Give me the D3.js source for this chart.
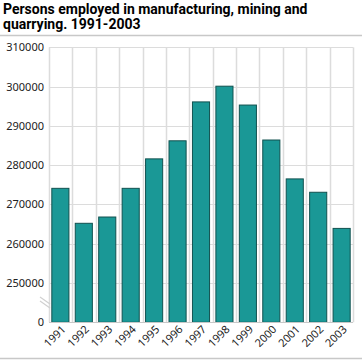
<!DOCTYPE html>
<html><head><meta charset="utf-8">
<script src="https://cdn.jsdelivr.net/npm/d3@7"></script>
<style>body{margin:0;background:#fff}svg{display:block}</style>
</head><body>
<script>
const years = ["1991","1992","1993","1994","1995","1996","1997","1998","1999","2000","2001","2002","2003"];
const employed = [274100,265200,266800,274100,281600,286200,296100,300100,295300,286400,276500,273100,263900];
const yTicks = [250000,260000,270000,280000,290000,300000,310000];
const yBase = 240000; // position shown as "0" (broken axis)
const title = ["Persons employed in manufacturing, mining and","quarrying. 1991-2003"];

const W=363,H=360;
const m={l:49,r:10,t:47.3,b:38};
const svg=d3.select("body").append("svg").attr("width",W).attr("height",H);
const ff="'Noto Sans', 'Open Sans', sans-serif";

svg.selectAll("text.title").data(title).enter().append("text")
 .attr("x",3).attr("y",(d,i)=>13.5+i*15.5).attr("font-family","Roboto, 'Noto Sans', sans-serif").attr("font-weight","bold")
 .attr("font-size",14).attr("fill","#000").text(d=>d);
svg.append("line").attr("x1",0).attr("x2",362).attr("y1",35.5).attr("y2",35.5).attr("stroke","#c8c8c8").attr("stroke-width",1.5);
svg.append("line").attr("x1",0).attr("x2",362).attr("y1",358.5).attr("y2",358.5).attr("stroke","#c8c8c8").attr("stroke-width",1.5);

const x=d3.scaleBand().domain(years).range([m.l,353]).paddingInner(0.27).paddingOuter(0.12);
const y=d3.scaleLinear().domain([yBase,310000]).range([322.3,47.3]);
const g=svg.append("g");
const cw=(353-m.l)/years.length;
// horizontal grid
g.selectAll("line.hg").data(yTicks).enter().append("line")
 .attr("x1",m.l).attr("x2",353).attr("y1",d=>Math.round(y(d))+0.5).attr("y2",d=>Math.round(y(d))+0.5)
 .attr("stroke","#dcdcdc").attr("stroke-width",1);
// vertical grid at category boundaries
g.selectAll("line.vg").data(years).enter().append("line")
 .attr("x1",(d,i)=>Math.round(m.l+cw*(i+1))+0.5)
 .attr("x2",(d,i)=>Math.round(m.l+cw*(i+1))+0.5)
 .attr("y1",47.3).attr("y2",322.3).attr("stroke","#dcdcdc").attr("stroke-width",1.5);
g.append("line").attr("x1",m.l+0.5).attr("x2",m.l+0.5).attr("y1",47.3).attr("y2",322.3).attr("stroke","#dcdcdc").attr("stroke-width",1.5);

// bars
g.selectAll("rect.bar").data(employed).enter().append("rect")
 .attr("x",(d,i)=>x(years[i])).attr("width",x.bandwidth())
 .attr("y",d=>y(d)).attr("height",d=>y(yBase)-y(d))
 .attr("fill","#1a9896").attr("stroke","#11514f").attr("stroke-width",1);

// baseline
g.append("line").attr("x1",m.l).attr("x2",353).attr("y1",322.5).attr("y2",322.5).attr("stroke","#c8c8c8").attr("stroke-width",1);

// break marks
[0,4].forEach(o=>{
 g.append("line").attr("x1",40).attr("y1",297+o).attr("x2",50).attr("y2",304+o).attr("stroke","#d0d0d0").attr("stroke-width",1.2);
});

// y labels
const yl=yTicks.map(v=>({v,label:String(v)})).concat([{v:yBase,label:"0"}]);
svg.selectAll("text.yl").data(yl).enter().append("text")
 .attr("x",44).attr("y",d=>y(d.v)+4).attr("text-anchor","end")
 .attr("font-family",ff).attr("font-size",11).attr("fill","#222").text(d=>d.label);

// x labels
svg.selectAll("text.xl").data(years).enter().append("text")
 .attr("transform",d=>`translate(${x(d)+x.bandwidth()/2+6},${330}) rotate(-45)`)
 .attr("text-anchor","end").attr("font-family",ff).attr("font-size",11).attr("fill","#222").text(d=>d);
</script>
</body></html>
